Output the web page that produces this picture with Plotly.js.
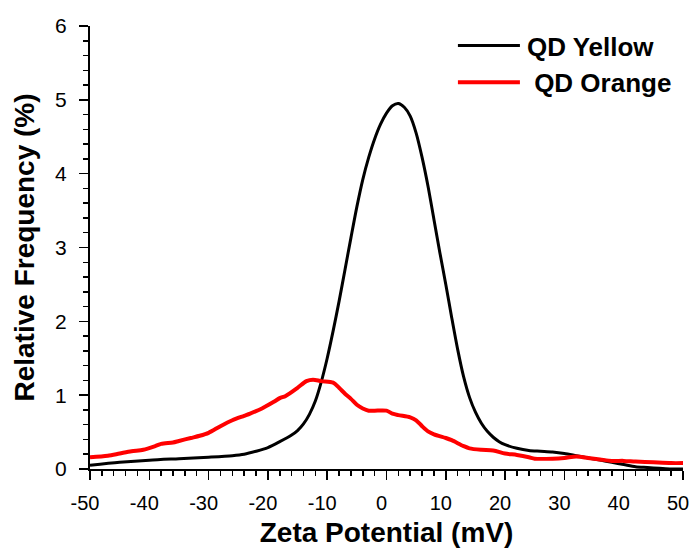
<!DOCTYPE html>
<html>
<head>
<meta charset="utf-8">
<script src="https://cdn.plot.ly/plotly-3.0.1.min.js"></script>
<style>
  html, body { margin: 0; padding: 0; background: #fff; }
  #chart { width: 694px; height: 548px; }
</style>
</head>
<body>
<div id="chart"></div>
<script>
// Zeta potential distributions of the two quantum-dot samples
const yellowZeta = [-50, -45, -40, -35, -30, -26, -24, -22, -20, -18, -16, -15, -14, -13, -12, -11, -10, -9, -8, -7, -6, -5, -4, -3, -2, -1, 0, 1, 2, 3, 4, 5, 6, 7, 8, 9, 10, 11, 12, 13, 14, 15, 16, 17, 18, 19, 20, 22, 24, 26, 28, 30, 32, 34, 36, 38, 40, 42, 44, 46, 48, 50];
const yellowFreq = [0.05, 0.09, 0.12, 0.14, 0.16, 0.18, 0.20, 0.24, 0.29, 0.37, 0.46, 0.52, 0.61, 0.74, 0.92, 1.18, 1.50, 1.87, 2.27, 2.70, 3.13, 3.55, 3.92, 4.22, 4.47, 4.67, 4.82, 4.92, 4.95, 4.90, 4.78, 4.55, 4.22, 3.83, 3.38, 2.93, 2.50, 2.05, 1.62, 1.25, 0.97, 0.77, 0.62, 0.51, 0.43, 0.37, 0.33, 0.28, 0.25, 0.24, 0.23, 0.21, 0.18, 0.15, 0.12, 0.09, 0.06, 0.03, 0.02, 0.01, 0.00, 0.00];

const orangeZeta = [-50, -47, -45, -43, -41, -39, -38, -36, -35, -33, -31.5, -30, -28, -26, -24, -23, -21, -19, -18, -17, -15, -13.5, -12.4, -11, -9, -8, -7, -6, -5, -4, -3, -2, 0, 1, 2, 4, 5, 6, 7, 8, 10, 11, 13, 14, 16, 18, 20, 22, 24, 25, 28, 30, 32, 34, 36, 38, 40, 42, 45, 48, 50];
const orangeFreq = [0.16, 0.18, 0.21, 0.24, 0.26, 0.31, 0.34, 0.36, 0.38, 0.42, 0.45, 0.49, 0.58, 0.66, 0.72, 0.75, 0.82, 0.91, 0.96, 0.99, 1.10, 1.19, 1.21, 1.19, 1.17, 1.10, 1.02, 0.95, 0.87, 0.82, 0.79, 0.79, 0.79, 0.75, 0.73, 0.70, 0.66, 0.58, 0.51, 0.47, 0.42, 0.39, 0.31, 0.28, 0.26, 0.25, 0.21, 0.19, 0.16, 0.14, 0.14, 0.15, 0.17, 0.15, 0.13, 0.11, 0.11, 0.10, 0.09, 0.08, 0.08];

const seriesNames = ['QD Yellow', '\u00a0QD Orange'];
const xTickVals = [-50, -40, -30, -20, -10, 0, 10, 20, 30, 40, 50];
const yTickVals = [0, 1, 2, 3, 4, 5, 6];

const font = 'Arial, "Liberation Sans", Helvetica, sans-serif';

const traces = [
  {
    x: yellowZeta, y: yellowFreq, name: seriesNames[0],
    type: 'scatter', mode: 'lines',
    line: { color: '#000000', width: 3, shape: 'spline', smoothing: 0.8 }
  },
  {
    x: orangeZeta, y: orangeFreq, name: seriesNames[1],
    type: 'scatter', mode: 'lines',
    line: { color: '#ff0000', width: 4, shape: 'spline', smoothing: 0.8 }
  }
];

const layout = {
  width: 694, height: 548,
  margin: { l: 90, r: 11, t: 26, b: 79 },
  paper_bgcolor: '#ffffff', plot_bgcolor: '#ffffff',
  font: { family: font, color: '#000000' },
  showlegend: true,
  legend: {
    x: 0.612, y: 1.009, xanchor: 'left', yanchor: 'top',
    bgcolor: 'rgba(0,0,0,0)', borderwidth: 0,
    font: { family: font, size: 26, color: '#000000', weight: 'bold' },
    itemwidth: 64, tracegroupgap: 0
  },
  xaxis: {
    range: [-50, 50], tickvals: xTickVals, ticktext: xTickVals.map(String),
    showgrid: false, zeroline: false,
    showline: true, linecolor: '#000', linewidth: 2,
    ticks: 'outside', ticklen: 9, tickwidth: 1.5, tickcolor: '#000',
    ticklabelstandoff: 6, ticklabelshift: -5, ticklabeloverflow: 'allow',
    tickfont: { family: font, size: 20, color: '#000' },
    minor: { dtick: 2, ticks: 'outside', ticklen: 5, tickwidth: 1.5, tickcolor: '#000', showgrid: false },
    title: { text: 'Zeta Potential (mV)', standoff: 10,
             font: { family: font, size: 28, color: '#000', weight: 'bold' } }
  },
  yaxis: {
    range: [0, 6], tickvals: yTickVals, ticktext: yTickVals.map(String),
    showgrid: false, zeroline: false,
    showline: true, linecolor: '#000', linewidth: 2,
    ticks: 'outside', ticklen: 9, tickwidth: 1.5, tickcolor: '#000',
    ticklabelstandoff: 8,
    tickfont: { family: font, size: 21, color: '#000' },
    minor: { dtick: 0.2, ticks: 'outside', ticklen: 5, tickwidth: 1.5, tickcolor: '#000', showgrid: false },
    title: { text: 'Relative Frequency (%)', standoff: 12,
             font: { family: font, size: 28, color: '#000', weight: 'bold' } }
  },
  // frame on the top and right with short inward ticks
  xaxis2: {
    overlaying: 'x', side: 'top', anchor: 'y', matches: 'x', range: [-50, 50],
    showgrid: false, zeroline: false, showticklabels: false,
    showline: true, linecolor: '#000', linewidth: 1.5,
    ticks: 'inside', dtick: 2, tick0: -50, ticklen: 3, tickwidth: 1, tickcolor: '#000'
  },
  yaxis2: {
    overlaying: 'y', side: 'right', anchor: 'x', range: [0, 6],
    showgrid: false, zeroline: false, showticklabels: false,
    showline: true, linecolor: '#000', linewidth: 1.5,
    ticks: 'inside', dtick: 0.2, tick0: 0, ticklen: 4, tickwidth: 1, tickcolor: '#000'
  }
};

Plotly.newPlot('chart', traces, layout, { displayModeBar: false, staticPlot: true }).then(function (gd) {
  // longer sample lines in the legend
  gd.querySelectorAll('.legend .legendlines path').forEach(function (p) {
    const d = p.getAttribute('d') || '';
    p.setAttribute('d', d.replace(/h[\d.]+/, 'h62'));
  });
});
</script>
</body>
</html>
